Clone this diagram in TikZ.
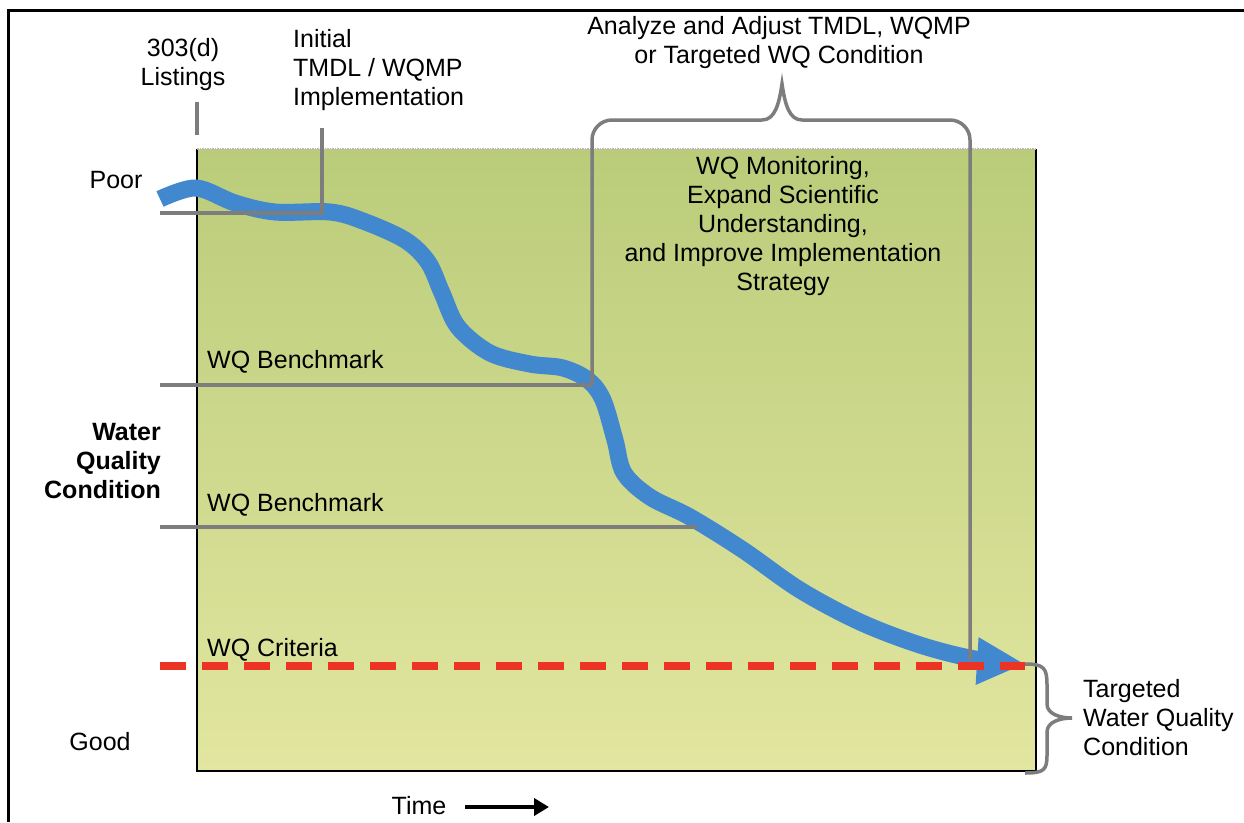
\documentclass[tikz,border=0pt]{standalone}
\usepackage{fontspec}
\setmainfont{Liberation Sans}
\usetikzlibrary{arrows.meta}
\definecolor{guidegray}{RGB}{125,125,125}
\definecolor{wqblue}{RGB}{66,136,206}
\definecolor{wqred}{RGB}{236,52,36}
\definecolor{panelTop}{RGB}{186,204,122}
\definecolor{panelBot}{RGB}{226,230,160}
\begin{document}
\begin{tikzpicture}[x=1pt,y=-1pt,
  lbl/.style={inner sep=0pt, font=\fontsize{25}{29}\selectfont},
  guide/.style={draw=guidegray, line width=3.5pt},
  redline/.style={draw=wqred, line width=8pt, dash pattern=on 26pt off 16pt},
  flow/.style={draw=wqblue, line width=17pt, -{Triangle[length=48pt,width=44pt]}},
]
\useasboundingbox (0,0) rectangle (1244,822);
\fill[white] (0,0) rectangle (1244,822);
% outer frame
\draw[line width=3pt] (8,822) -- (8,10) -- (1244,10);
% panel
\shade[top color=panelTop, bottom color=panelBot] (197,149) rectangle (1036,771);
\draw[line width=2.5pt] (197,149) -- (197,771) -- (1036,771) -- (1036,149);
\draw[draw=gray!55, line width=1.5pt, densely dotted] (197,149) -- (1036,149);

% blue trajectory
\draw[flow] plot[smooth, tension=0.55] coordinates {(160,199) (196,188) (235,203) (275,212) (330,212) (363,221) (405,240) (428,262) (442,293) (458,327) (490,353) (530,364) (563,368) (588,380) (603,400) (615,440) (624,473) (650,497) (690,517) (743,550) (800,590) (860,622) (920,645) (975,659) (1025,664)};

% guide coordinates
\coordinate (listTop) at (197,102);
\coordinate (listBot) at (197,135);
\coordinate (initTop) at (322,128);
\coordinate (initCorner) at (322,213);
\coordinate (initEnd) at (160,213);
\coordinate (b1L) at (160,385);
\coordinate (b1R) at (592,385);
\coordinate (b2L) at (160,527);
\coordinate (b2R) at (697,527);
\coordinate (brLtop) at (592,120);
\coordinate (brA) at (762,120);
\coordinate (brPeak) at (782,84);
\coordinate (brB) at (802,120);
\coordinate (brRtop) at (970,120);
\coordinate (brRbot) at (970,660);
\coordinate (rbTop) at (1025,664);
\coordinate (rbTip) at (1072,718);
\coordinate (rbBot) at (1025,773);
\coordinate (critL) at (160,666);
\coordinate (critR) at (1025,666);

\draw[guide] (listTop) -- (listBot);
\draw[guide] (initTop) -- (initCorner) -- (initEnd);
\draw[guide] (b1L) -- (b1R);
\draw[guide] (b2L) -- (b2R);
\draw[guide, rounded corners=20pt] (b1R) -- (brLtop) -- (brA);
\draw[guide] (brA) .. controls (775,120) and (779,104) .. (brPeak) .. controls (785,104) and (789,120) .. (brB);
\draw[guide, rounded corners=20pt] (brB) -- (brRtop) -- (brRbot);
\draw[guide] (rbTop) .. controls (1044,664) and (1047,668) .. (1047,685) -- (1047,704) .. controls (1047,714) and (1060,718) .. (rbTip) .. controls (1060,718) and (1047,722) .. (1047,732) -- (1047,755) .. controls (1047,770) and (1044,773) .. (rbBot);

% red criteria line
\draw[redline] (critL) -- (critR);

% labels
\node[lbl, align=center] (listing) at (183,65) {303(d)\\Listings};
\node[lbl, align=left, anchor=west] (initial) at (293,70) {Initial\\TMDL / WQMP\\Implementation};
\node[lbl, align=center] (analyze) at (779,43) {Analyze and Adjust TMDL, WQMP\\or Targeted WQ Condition};
\node[lbl, align=center] (monitor) at (783,226) {WQ Monitoring,\\Expand Scientific\\Understanding,\\and Improve Implementation\\Strategy};
\node[lbl] (poor) at (116,180) {Poor};
\node[lbl] (good) at (100,742) {Good};
\node[lbl, align=right, anchor=east, font=\fontsize{25}{29}\selectfont\bfseries] (wqc) at (161,461) {Water\\Quality\\Condition};
\node[lbl, anchor=west] (bench1) at (207,362) {WQ Benchmark};
\node[lbl, anchor=west] (bench2) at (207,505) {WQ Benchmark};
\node[lbl, anchor=west] (crit) at (207,650) {WQ Criteria};
\node[lbl, align=left, anchor=west] (target) at (1083,718) {Targeted\\Water Quality\\Condition};
\node[lbl] (time) at (419,806) {Time};
\coordinate (timeStart) at (465,807);
\coordinate (timeEnd) at (549,807);
\draw[line width=4.5pt, -{Triangle[length=15pt,width=17pt]}] (timeStart) -- (timeEnd);
\end{tikzpicture}
\end{document}
